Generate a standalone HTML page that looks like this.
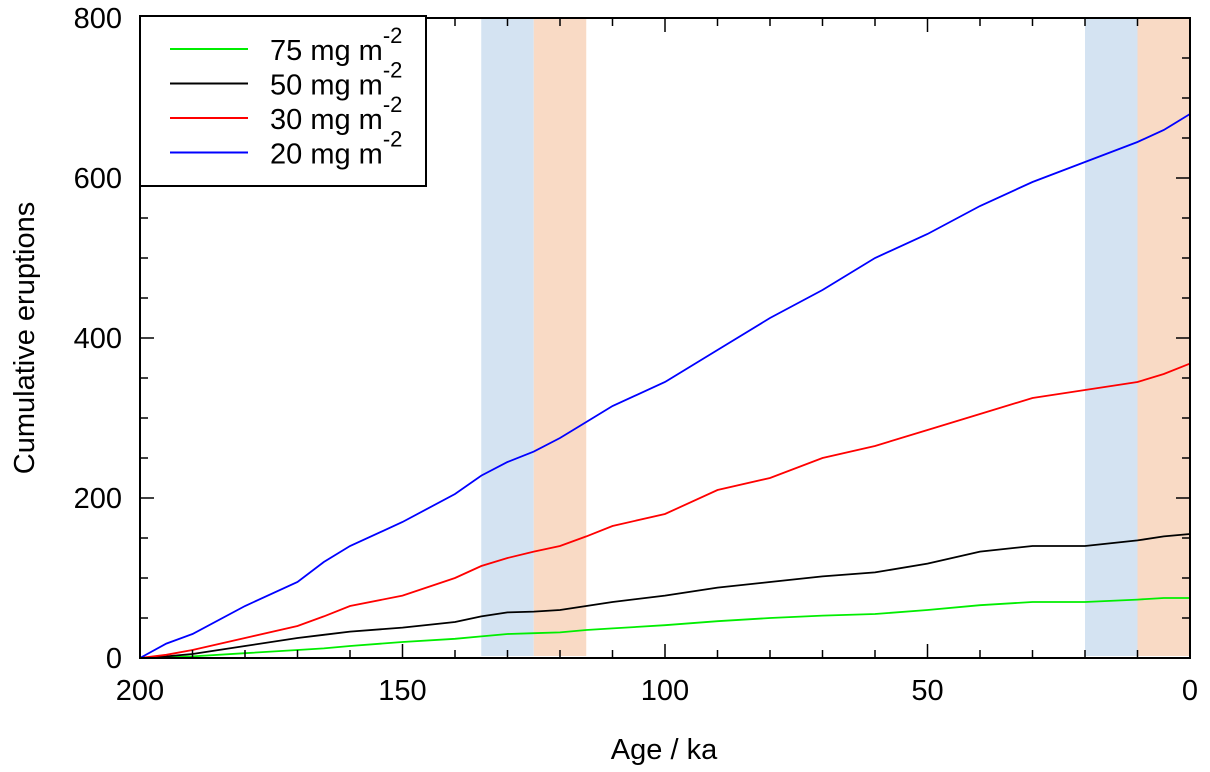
<!DOCTYPE html>
<html><head><meta charset="utf-8"><style>
body{margin:0;background:#fff;}
svg{display:block;font-family:"Liberation Sans",Arial,sans-serif;}
</style></head><body>
<svg id="chart" width="1210" height="772" viewBox="0 0 1210 772">
<g id="bands"></g>
<g id="series"></g>
<g id="axes"></g>
<g id="legend"></g>
</svg>
<script>
const ages = [200,195,190,180,170,165,160,150,140,135,130,125,120,115,110,100,90,80,70,60,50,40,30,20,10,5,0];
const blueVals = [0,18,30,65,95,120,140,170,205,228,245,258,275,295,315,345,385,425,460,500,530,565,595,620,645,660,680];
const redVals = [0,4,10,25,40,52,65,78,100,115,125,133,140,152,165,180,210,225,250,265,285,305,325,335,345,355,368];
const blackVals = [0,2,5,15,25,29,33,38,45,52,57,58,60,65,70,78,88,95,102,107,118,133,140,140,147,152,155];
const greenVals = [0,1,2,6,10,12,15,20,24,27,30,31,32,35,37,41,46,50,53,55,60,66,70,70,73,75,75];
const xTicks = [200,150,100,50,0];
const yTicks = [0,200,400,600,800];
const bands = [[135,125,'#d4e3f2'],[125,115,'#f9dac5'],[20,10,'#d4e3f2'],[10,0,'#f9dac5']];
const legendLabels = ['75','50','30','20'];
const legendColors = ['#00ee00','#000000','#ff0000','#0000ff'];

const L=140,R=1190,T=18,B=658;
const xs=a=>L+(200-a)*(R-L)/200;
const ys=v=>B-v*(B-T)/800;
const NS='http://www.w3.org/2000/svg';
function mk(tag,attrs,parent){const e=document.createElementNS(NS,tag);for(const k in attrs)e.setAttribute(k,attrs[k]);parent.appendChild(e);return e;}

const gb=document.getElementById('bands');
bands.forEach((b,i)=>{
 const r=mk('rect',{x:xs(b[0]),y:T,width:xs(b[1])-xs(b[0]),height:B-T-2,fill:b[2]},gb);
 
 
});

const gs=document.getElementById('series');
[[greenVals,'#00ee00','green'],[blackVals,'#000','black'],[redVals,'#ff0000','red'],[blueVals,'#0000ff','blue']].forEach(s=>{
 const pts=ages.map((a,i)=>xs(a).toFixed(1)+','+ys(s[0][i]).toFixed(1)).join(' ');
 const p=mk('polyline',{points:pts,fill:'none',stroke:s[1],'stroke-width':1.8},gs);
 
 
});

const ga=document.getElementById('axes');
const frame=mk('rect',{x:L,y:T,width:R-L,height:B-T,fill:'none',stroke:'#000','stroke-width':2},ga);


for(let a=0;a<=200;a+=10){
 const len=a%50===0?14:8;const x=xs(a);
 mk('line',{x1:x,y1:B,x2:x,y2:B-len,stroke:'#000','stroke-width':1.5},ga);
 mk('line',{x1:x,y1:T,x2:x,y2:T+len,stroke:'#000','stroke-width':1.5},ga);
}
for(let v=0;v<=800;v+=50){
 const len=v%200===0?14:8;const y=ys(v);
 mk('line',{x1:L,y1:y,x2:L+len,y2:y,stroke:'#000','stroke-width':1.5},ga);
 mk('line',{x1:R,y1:y,x2:R-len,y2:y,stroke:'#000','stroke-width':1.5},ga);
}
xTicks.forEach(a=>{
 const t=mk('text',{x:xs(a),y:700,'text-anchor':'middle','font-size':29},ga);t.textContent=a;
 
 
});
yTicks.forEach(v=>{
 const t=mk('text',{x:122,y:ys(v)+10,'text-anchor':'end','font-size':29},ga);t.textContent=v;
 
 
});
const xt=mk('text',{x:664,y:759,'text-anchor':'middle','font-size':29},ga);xt.textContent='Age / ka';


const yt=mk('text',{x:0,y:0,'text-anchor':'middle','font-size':29,transform:'translate(34,338) rotate(-90)'},ga);yt.textContent='Cumulative eruptions';



const gl=document.getElementById('legend');
const box=mk('rect',{x:140,y:16,width:286,height:170,fill:'#fff',stroke:'#000','stroke-width':2},gl);


legendLabels.forEach((lab,i)=>{
 const y=49+i*34.5;
 const ln=mk('line',{x1:170,y1:y,x2:248,y2:y,stroke:legendColors[i],'stroke-width':2},gl);
 
 
 const t=mk('text',{x:270,y:y+11,'font-size':29},gl);
 t.textContent=lab+' mg m';
 const sup=mk('tspan',{dy:-17,'font-size':22},t);sup.textContent='-2';
 
 
});
</script>
</body></html>
